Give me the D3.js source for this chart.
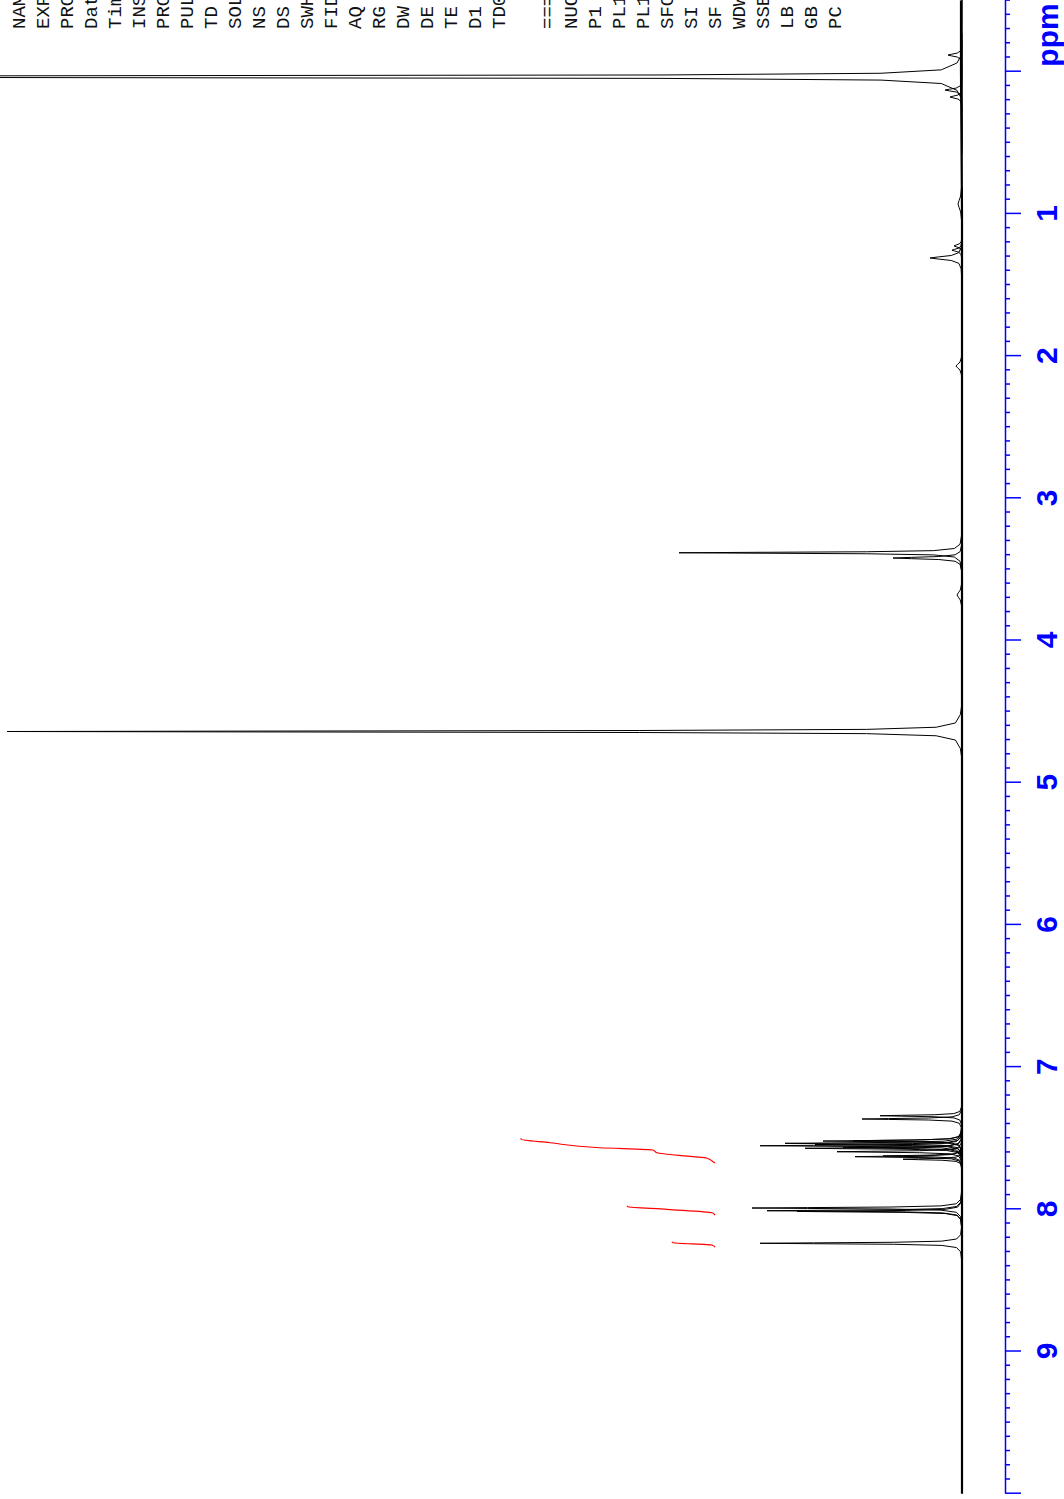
<!DOCTYPE html>
<html>
<head>
<meta charset="utf-8">
<script src="https://cdn.jsdelivr.net/npm/d3@7"></script>
<style>
  html, body { margin: 0; padding: 0; background: #fff; }
  svg { display: block; }
</style>
</head>
<body>
<div id="chart"></div>
<script>
// ---------------- DATA ----------------
// ppm axis
const ppmDomain = [10, -0.5];
const majorTicks = [0, 1, 2, 3, 4, 5, 6, 7, 8, 9, 10];
const tickLabels = ["", "1", "2", "3", "4", "5", "6", "7", "8", "9", ""];
const axisTitle = "ppm";

// acquisition / processing parameter names (text runs off the page edge)
const paramNames = ["NAME", "EXPNO", "PROCNO", "Date_", "Time", "INSTRUM", "PROBHD",
  "PULPROG", "TD", "SOLVENT", "NS", "DS", "SWH", "FIDRES", "AQ", "RG", "DW", "DE",
  "TE", "D1", "TD0", "", "======== CHANNEL f1 ========", "NUC1", "P1", "PL1", "PL1W",
  "SFO1", "SI", "SF", "WDW", "SSB", "LB", "GB", "PC"];

// peaks: position (ppm), height (px-equivalent intensity), width factor
const peakPpm    = [-0.117, 0.035, 0.129, 0.178, 0.93, 1.225, 1.255, 1.31, 2.07, 3.383, 3.42, 3.68, 4.64,
                    7.342, 7.365, 7.518, 7.52, 7.536, 7.545, 7.553, 7.567, 7.571, 7.595, 7.625, 7.630, 7.648,
                    7.991, 8.010, 8.015, 8.239];
const peakHeight = [14, 3000, 17, 12, 4, 8, 10, 32, 6, 283, 69, 5, 955,
                    82, 100, 109, 139, 177, 147, 202, 119, 157, 125, 79, 107, 59,
                    210, 195, 165, 202];
const peakWidth  = [2, 0.8, 2, 2, 8, 2, 2, 2.5, 4, 1, 1.5, 5, 1,
                    1, 1, 1, 1, 1, 1, 1, 1, 1, 1, 1, 1, 1,
                    1, 1, 1, 1];

// fixed line-shape template: [offset in half-widths, fraction of peak height]
const lineShapeOffset   = [0, 0.6, 1.4, 3, 6, 12, 24, 40];
const lineShapeFraction = [1, 0.735, 0.338, 0.1, 0.027, 0.0069, 0.0017, 0];
const halfWidthPpm = 0.005;

// baseline
const baselinePpm   = [-0.5, 0.0, 0.5, 1.0, 2.0, 4.0, 6.0, 8.0, 10.0];
const baselineValue = [1, 1, 0.5, 0, 0, 0, 0, 0, 0];

// integral curves (ppm, rise in px-equivalent)
const integral1Ppm = [7.674, 7.665, 7.641, 7.630, 7.602, 7.583, 7.567, 7.532, 7.508, 7.501];
const integral1Val = [0, 2, 8, 22, 58, 62, 115, 165, 194, 194];
const integral2Ppm = [8.040, 8.033, 8.024, 8.000, 7.982, 7.975];
const integral2Val = [0, 1, 3, 48, 87, 88];
const integral3Ppm = [8.267, 8.251, 8.235, 8.228];
const integral3Val = [0, 3, 42, 43];

// ---------------- DRAWING ----------------
const pageW = 1064, pageH = 1499;

const svg = d3.select("#chart").append("svg")
  .attr("width", pageW).attr("height", pageH)
  .style("background", "#fff");

// the chart is drawn in landscape and rotated -90deg
const g = svg.append("g").attr("transform", `translate(0,${pageH}) rotate(-90)`);

const x = d3.scaleLinear().domain(ppmDomain).range([5.3, 1498.4]);
const y = d3.scaleLinear().domain([0, 962]).range([962, 0]);
const yInt = d3.scaleLinear().domain([0, 715]).range([715, 0]);

// parameter text
g.append("g").selectAll("text").data(paramNames).join("text")
  .attr("x", 1470)
  .attr("y", (d, i) => 25 + 24 * i)
  .attr("font-family", "'Courier New', 'Liberation Mono', monospace")
  .attr("font-size", 19)
  .attr("fill", "#111")
  .attr("xml:space", "preserve")
  .text(d => d);

// baseline
const line = d3.line().x(d => x(d[0])).y(d => y(d[1]));
g.append("path")
  .datum(baselinePpm.map((p, i) => [p, baselineValue[i]]))
  .attr("d", line)
  .attr("fill", "none").attr("stroke", "#000").attr("stroke-width", 2.2);

// peaks
const peaks = peakPpm.map((p, i) => ({ p, h: peakHeight[i], w: peakWidth[i] }));
g.append("g").selectAll("path").data(peaks).join("path")
  .attr("d", pk => {
    const pts = [];
    for (let k = lineShapeOffset.length - 1; k > 0; k--)
      pts.push([pk.p - lineShapeOffset[k] * halfWidthPpm * pk.w, pk.h * lineShapeFraction[k]]);
    for (let k = 0; k < lineShapeOffset.length; k++)
      pts.push([pk.p + lineShapeOffset[k] * halfWidthPpm * pk.w, pk.h * lineShapeFraction[k]]);
    return line(pts);
  })
  .attr("fill", "none").attr("stroke", "#000").attr("stroke-width", 1);

// integrals
const intLine = d3.line().x(d => x(d[0])).y(d => yInt(d[1])).curve(d3.curveMonotoneX);
[[integral1Ppm, integral1Val], [integral2Ppm, integral2Val], [integral3Ppm, integral3Val]].forEach(([ps, vs]) => {
  g.append("path")
    .datum(ps.map((p, i) => [p, vs[i]]))
    .attr("d", intLine)
    .attr("fill", "none").attr("stroke", "#ff0000").attr("stroke-width", 1.2);
});

// axis
const minorTicks = d3.range(-5, 101).filter(v => v % 10 !== 0).map(v => v / 10);
const axisG = g.append("g").attr("transform", "translate(0,1005)");
axisG.append("g")
  .call(d3.axisBottom(x).tickValues(minorTicks).tickSize(5).tickSizeOuter(0).tickFormat(""))
  .call(s => s.selectAll("line, path").attr("stroke", "#0000ff").attr("stroke-width", 1.5));
axisG.append("g")
  .call(d3.axisBottom(x).tickValues(majorTicks).tickSize(16).tickSizeOuter(0).tickPadding(15)
    .tickFormat((d, i) => tickLabels[i]))
  .call(s => s.select(".domain").remove())
  .call(s => s.selectAll("line").attr("stroke", "#0000ff").attr("stroke-width", 1.5))
  .call(s => s.selectAll("text")
    .attr("fill", "#0000ff")
    .attr("font-family", "Arial, 'Liberation Sans', sans-serif")
    .attr("font-weight", "bold")
    .attr("font-size", 30));

axisG.append("text")
  .attr("x", 1495.7).attr("y", 53)
  .attr("text-anchor", "end")
  .attr("fill", "#0000ff")
  .attr("font-family", "Arial, 'Liberation Sans', sans-serif")
  .attr("font-weight", "bold")
  .attr("font-size", 30)
  .text(axisTitle);
</script>
</body>
</html>
